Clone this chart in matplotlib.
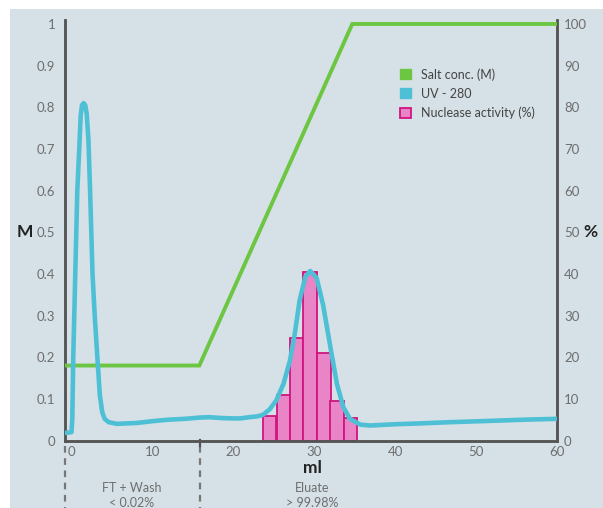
import matplotlib
matplotlib.use("Agg")
import matplotlib.pyplot as plt
from matplotlib.patches import Patch, Rectangle
from matplotlib.lines import Line2D

# ---- data ----
salt_x = [-0.8, 15.8, 34.7, 60]
salt_y = [0.18, 0.18, 1.0, 1.0]

uv_x = [-0.8, 0.0, 0.1, 0.22, 0.47, 0.72, 0.96, 1.14, 1.3, 1.5, 1.7, 1.88, 2.1, 2.3, 2.6, 2.9, 3.2, 3.5, 3.8, 4.1, 4.6, 5.6, 8, 10.3, 12, 14, 15.8, 17, 18.5, 20, 20.8, 22, 23, 23.7, 24.5, 25.3, 26.2, 27.0, 27.6, 28.2, 28.9, 29.5, 30.3, 31.1, 32.0, 32.8, 33.6, 34.4, 35.7, 36.9, 40, 43, 46.8, 50, 53, 56, 60]
uv_y = [0.018, 0.02, 0.05, 0.2, 0.4, 0.6, 0.7, 0.78, 0.805, 0.81, 0.805, 0.785, 0.72, 0.6, 0.4, 0.29, 0.2, 0.11, 0.068, 0.052, 0.044, 0.04, 0.042, 0.047, 0.05, 0.052, 0.055, 0.056, 0.054, 0.053, 0.053, 0.056, 0.058, 0.062, 0.075, 0.096, 0.136, 0.192, 0.257, 0.337, 0.393, 0.407, 0.39, 0.325, 0.224, 0.136, 0.080, 0.052, 0.038, 0.036, 0.039, 0.041, 0.044, 0.046, 0.048, 0.050, 0.052]

nuc_x = [24.5, 26.2, 27.8, 29.5, 31.2, 32.8, 34.5]
nuc_pct = [6, 11, 24.5, 40.5, 21, 9.5, 5.5]
nuc_width = 1.66

x_ticks = [0, 10, 20, 30, 40, 50, 60]
m_ticks = [0, 0.1, 0.2, 0.3, 0.4, 0.5, 0.6, 0.7, 0.8, 0.9, 1]
m_labels = ["0", "0.1", "0.2", "0.3", "0.4", "0.5", "0.6", "0.7", "0.8", "0.9", "1"]
pct_ticks = [0, 10, 20, 30, 40, 50, 60, 70, 80, 90, 100]

legend_labels = ["Salt conc. (M)", "UV - 280", "Nuclease activity (%)"]

# ---- style ----
plt.rcParams['font.family'] = ['Lato', 'DejaVu Sans']
BG = "#d5e1e7"
GREEN = "#6dc641"
CYAN = "#4ec0d5"
PINK = "#e985c6"
MAGENTA = "#d0157f"
SPINE = "#555555"
TICKC = "#6e6e6e"

W, H = 603, 508
fig = plt.figure(figsize=(W / 100, H / 100), dpi=100)
fig.patch.set_facecolor("white")
fig.patches.append(Rectangle((10 / W, 0), 1 - 10 / W, 1 - 9 / H, transform=fig.transFigure,
                             facecolor=BG, edgecolor="none", zorder=-10))

left, right = 65 / W, 557 / W
bottom = 1 - 440.5 / H
top = 1 - 19.8 / H
ax = fig.add_axes([left, bottom, right - left, top - bottom])
ax.set_facecolor("none")
ax2 = ax.twinx()

ax.set_xlim(-0.8, 60)
ax.set_ylim(0, 1.01)
ax2.set_ylim(0, 101)

# bars on percent axis
ax2.bar(nuc_x, nuc_pct, width=nuc_width, color=PINK, edgecolor=MAGENTA, linewidth=1.3, zorder=2)

ax.set_zorder(ax2.get_zorder() + 1)
ax.patch.set_visible(False)
ax.plot(salt_x, salt_y, color=GREEN, lw=2.8, solid_joinstyle="miter", zorder=3)
ax.plot(uv_x, uv_y, color=CYAN, lw=3.3, solid_capstyle="round", solid_joinstyle="round", zorder=4)

for a in (ax, ax2):
    a.spines['top'].set_visible(False)
    for s in ('left', 'right', 'bottom'):
        a.spines[s].set_color(SPINE)
        a.spines[s].set_linewidth(1.8)

ax.set_xticks(x_ticks)
ax.set_xticklabels([str(t) for t in x_ticks])
ax.set_yticks(m_ticks)
ax.set_yticklabels(m_labels)
ax2.set_yticks(pct_ticks)
ax2.set_yticklabels([str(t) for t in pct_ticks])
ax.tick_params(axis='both', length=0, pad=7, labelsize=9.5, labelcolor=TICKC)
ax2.tick_params(axis='y', length=0, pad=5, labelsize=9.5, labelcolor=TICKC)
ax.tick_params(axis='x', pad=4)

# axis labels
fig.text(25 / W, 1 - 232 / H, "M", ha="center", va="center", fontsize=12.5, fontweight="bold", color="#222222")
fig.text(590 / W, 1 - 232 / H, "%", ha="center", va="center", fontsize=12.5, fontweight="bold", color="#222222")
fig.text(312 / W, 1 - 468 / H, "ml", ha="center", va="center", fontsize=12.5, fontweight="bold", color="#222222")

# region annotations
fig.text(132 / W, 1 - 488 / H, "FT + Wash", ha="center", va="center", fontsize=9, color=TICKC)
fig.text(132 / W, 1 - 503 / H, "< 0.02%", ha="center", va="center", fontsize=9, color=TICKC)
fig.text(312 / W, 1 - 488 / H, "Eluate", ha="center", va="center", fontsize=9, color=TICKC)
fig.text(312 / W, 1 - 503 / H, "> 99.98%", ha="center", va="center", fontsize=9, color=TICKC)

for xp in (65, 199.5):
    fig.add_artist(Line2D([xp / W, xp / W], [1 - 446 / H, 0], transform=fig.transFigure,
                          color="#777777", lw=1.6, linestyle=(0, (3, 2.5))))
fig.add_artist(Line2D([199.5 / W, 199.5 / W], [1 - 440 / H, 1 - 446 / H], transform=fig.transFigure,
                      color=SPINE, lw=1.6))

# legend
handles = [Patch(facecolor=GREEN, edgecolor=GREEN),
           Patch(facecolor=CYAN, edgecolor=CYAN),
           Patch(facecolor=PINK, edgecolor=MAGENTA, linewidth=1.3)]
leg = fig.legend(handles, legend_labels, loc="upper left", bbox_to_anchor=(394 / W, 1 - 62 / H),
                 frameon=False, fontsize=9, handlelength=0.85, handleheight=0.85,
                 handletextpad=0.8, labelspacing=0.55, borderpad=0)
for t in leg.get_texts():
    t.set_color("#444444")

fig.savefig("out.png", dpi=100, facecolor=fig.get_facecolor())
